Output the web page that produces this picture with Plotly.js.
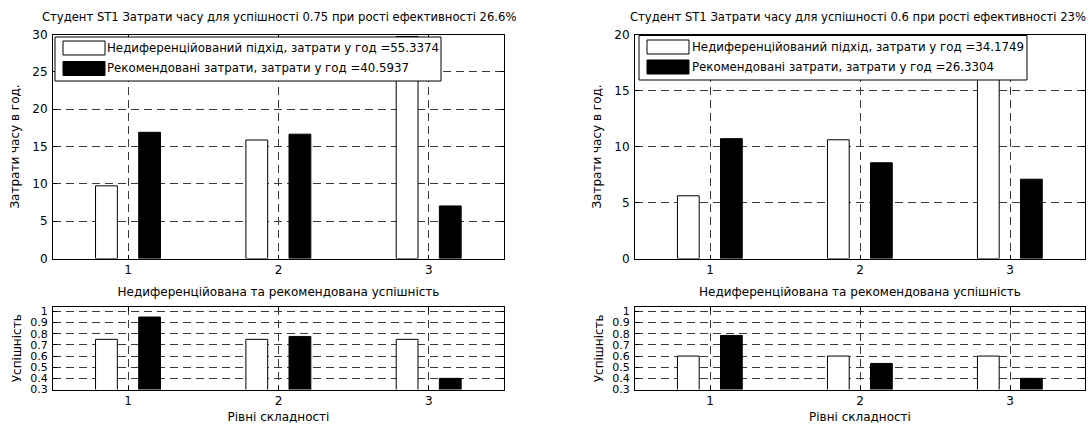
<!DOCTYPE html>
<html>
<head>
<meta charset="utf-8">
<script src="https://cdn.plot.ly/plotly-3.0.1.min.js"></script>
<style>html,body{margin:0;padding:0;background:#fff;}#chart{width:1091px;height:425px;}</style>
</head>
<body>
<div id="chart"></div>
<script>
// Levels of difficulty (categories)
const levels = [1, 2, 3];

// Left panel (успішність 0.75)
const leftTitle = 'Студент ST1 Затрати часу для успішності 0.75 при рості ефективності 26.6%';
const leftUndiffHours = [9.73, 15.87, 29.74];
const leftRecomHours = [16.9, 16.65, 7.04];
const leftUndiffSuccess = [0.75, 0.75, 0.75];
const leftRecomSuccess = [0.95, 0.776, 0.4];
const leftUndiffName = 'Недиференційований підхід, затрати у год =55.3374';
const leftRecomName = 'Рекомендовані затрати, затрати у год =40.5937';
const leftHoursTicks = [0, 5, 10, 15, 20, 25, 30];

// Right panel (успішність 0.6)
const rightTitle = 'Студент ST1 Затрати часу для успішності 0.6 при рості ефективності 23%';
const rightUndiffHours = [5.6, 10.6, 17.97];
const rightRecomHours = [10.7, 8.55, 7.08];
const rightUndiffSuccess = [0.6, 0.6, 0.6];
const rightRecomSuccess = [0.785, 0.534, 0.4];
const rightUndiffName = 'Недиференційований підхід, затрати у год =34.1749';
const rightRecomName = 'Рекомендовані затрати, затрати у год =26.3304';
const rightHoursTicks = [0, 5, 10, 15, 20];

const successTicks = [0.3, 0.4, 0.5, 0.6, 0.7, 0.8, 0.9, 1];
const successTickText = ['0.3', '0.4', '0.5', '0.6', '0.7', '0.8', '0.9', '1'];

const topXTitle = 'Недиференційована та рекомендована успішність';
const bottomXTitle = 'Рівні складності';
const hoursYTitle = 'Затрати часу в год.';
const successYTitle = 'Успішність';

const FONT = '"DejaVu Sans", Verdana, sans-serif';
const FS = 12;
const TITLE_FS = 11.6;
const LEG_FS = 11.8;
const W = 1091, H = 425;
const px = v => v / W;
const py = v => 1 - v / H;

const BW = 0.145;
const OFF_W = -0.217;
const OFF_B = 0.07;

function whiteBar(y, xa, ya, name) {
  return {type: 'bar', x: levels, y: y, xaxis: xa, yaxis: ya, name: name,
    width: BW, offset: OFF_W, showlegend: false,
    marker: {color: '#ffffff', line: {color: '#000000', width: 1}}, hoverinfo: 'x+y'};
}
function blackBar(y, xa, ya, name) {
  return {type: 'bar', x: levels, y: y, xaxis: xa, yaxis: ya, name: name,
    width: BW, offset: OFF_B, showlegend: false,
    marker: {color: '#000000', line: {color: '#000000', width: 1}}, hoverinfo: 'x+y'};
}

const data = [
  whiteBar(leftUndiffHours, 'x', 'y', leftUndiffName),
  blackBar(leftRecomHours, 'x', 'y', leftRecomName),
  whiteBar(leftUndiffSuccess, 'x2', 'y2', leftUndiffName),
  blackBar(leftRecomSuccess, 'x2', 'y2', leftRecomName),
  whiteBar(rightUndiffHours, 'x3', 'y3', rightUndiffName),
  blackBar(rightRecomHours, 'x3', 'y3', rightRecomName),
  whiteBar(rightUndiffSuccess, 'x4', 'y4', rightUndiffName),
  blackBar(rightRecomSuccess, 'x4', 'y4', rightRecomName)
];

const GRID = '#3a3a3a';
function xAxis(domain, anchor, title, standoff) {
  return {domain: domain, anchor: anchor, range: [0.5, 3.5], tickvals: levels,
    ticktext: levels.map(String), showgrid: true, gridcolor: GRID, griddash: '8px,5px', gridwidth: 1,
    zeroline: false, showline: true, linecolor: '#000', linewidth: 1, mirror: 'ticks',
    ticks: 'inside', ticklen: 4, tickcolor: '#000', tickfont: {family: FONT, size: FS, color: '#000'},
    title: {text: title, font: {family: FONT, size: FS, color: '#000'}, standoff: standoff},
    fixedrange: true, automargin: false};
}
function yAxis(domain, anchor, range, ticks, tickText, title, standoff, tfs) {
  const a = {domain: domain, anchor: anchor, range: range, tickvals: ticks,
    showgrid: true, gridcolor: GRID, griddash: '8px,5px', gridwidth: 1,
    zeroline: false, showline: true, linecolor: '#000', linewidth: 1, mirror: 'ticks',
    ticks: 'inside', ticklen: 4, tickcolor: '#000', ticklabelstandoff: 2,
    tickfont: {family: FONT, size: tfs, color: '#000'},
    title: {text: title, font: {family: FONT, size: FS, color: '#000'}, standoff: standoff},
    fixedrange: true, automargin: false};
  if (tickText) a.ticktext = tickText;
  return a;
}

const LX = [px(53), px(504)];
const RX = [px(635), px(1085)];
const TY = [py(258.5), py(34.5)];
const BY = [py(389.5), py(307)];

// Custom legend boxes (wide swatches like the original)
function legendParts(box, sw, textX, rows, names) {
  const shapes = [
    {type: 'rect', xref: 'paper', yref: 'paper', layer: 'above',
      x0: px(box[0]), x1: px(box[1]), y0: py(box[2]), y1: py(box[3]),
      fillcolor: '#ffffff', line: {color: '#000', width: 1}},
    {type: 'rect', xref: 'paper', yref: 'paper', layer: 'above',
      x0: px(sw[0]), x1: px(sw[1]), y0: py(rows[0] + 7), y1: py(rows[0] - 7),
      fillcolor: '#ffffff', line: {color: '#000', width: 1}},
    {type: 'rect', xref: 'paper', yref: 'paper', layer: 'above',
      x0: px(sw[0]), x1: px(sw[1]), y0: py(rows[1] + 7), y1: py(rows[1] - 7),
      fillcolor: '#000000', line: {color: '#000', width: 1}}
  ];
  const anns = names.map((n, i) => ({text: n, xref: 'paper', yref: 'paper',
    x: px(textX), y: py(rows[i]), xanchor: 'left', yanchor: 'middle', showarrow: false,
    font: {family: FONT, size: LEG_FS, color: '#000'}}));
  return {shapes, anns};
}
const legL = legendParts([55, 441, 81, 37], [63, 105], 105, [48, 68.5], [leftUndiffName, leftRecomName]);
const legR = legendParts([639, 1027, 80, 35.5], [647, 689], 690, [47, 67], [rightUndiffName, rightRecomName]);

const layout = {
  width: W, height: H,
  margin: {l: 0, r: 0, t: 0, b: 0},
  paper_bgcolor: '#fff', plot_bgcolor: '#fff',
  font: {family: FONT, size: FS, color: '#000'},
  barmode: 'overlay',
  showlegend: false,
  xaxis: xAxis(LX, 'y', topXTitle, 11),
  yaxis: yAxis(TY, 'x', [0, 30], leftHoursTicks, null, hoursYTitle, 10, FS),
  xaxis2: xAxis(LX, 'y2', bottomXTitle, 5),
  yaxis2: yAxis(BY, 'x2', [0.3, 1.04], successTicks, successTickText, successYTitle, 6, 11),
  xaxis3: xAxis(RX, 'y3', topXTitle, 11),
  yaxis3: yAxis(TY, 'x3', [0, 20], rightHoursTicks, null, hoursYTitle, 10, FS),
  xaxis4: xAxis(RX, 'y4', bottomXTitle, 5),
  yaxis4: yAxis(BY, 'x4', [0.3, 1.04], successTicks, successTickText, successYTitle, 6, 11),
  shapes: legL.shapes.concat(legR.shapes),
  annotations: [
    {text: leftTitle, xref: 'paper', yref: 'paper', x: px(279), y: py(17),
      xanchor: 'center', yanchor: 'middle', showarrow: false, font: {family: FONT, size: TITLE_FS, color: '#000'}},
    {text: rightTitle, xref: 'paper', yref: 'paper', x: px(1088), y: py(17),
      xanchor: 'right', yanchor: 'middle', showarrow: false, font: {family: FONT, size: TITLE_FS, color: '#000'}}
  ].concat(legL.anns, legR.anns)
};

Plotly.newPlot('chart', data, layout, {displayModeBar: false, staticPlot: true});
</script>
</body>
</html>
